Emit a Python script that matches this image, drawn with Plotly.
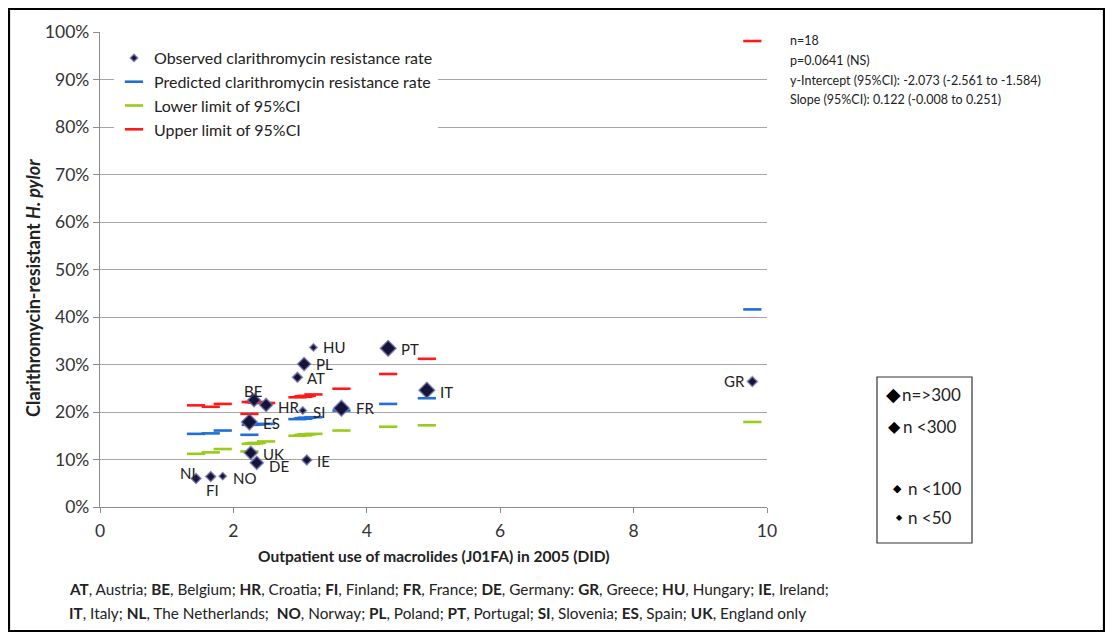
import plotly.graph_objects as go

# ---------------- data ----------------
countries = ["NL", "FI", "NO", "ES", "UK", "BE", "DE", "HR", "AT", "SI", "PL", "IE", "HU", "FR", "PT", "IT", "GR"]
macrolide_use = [1.44, 1.66, 1.84, 2.24, 2.26, 2.31, 2.35, 2.49, 2.96, 3.04, 3.06, 3.10, 3.20, 3.62, 4.32, 4.90, 9.78]
observed = [6.0, 6.4, 6.5, 17.9, 11.4, 22.5, 9.3, 21.5, 27.3, 20.3, 30.1, 9.9, 33.6, 20.8, 33.4, 24.6, 26.4]
predicted = [15.4, 15.5, 16.1, 15.2, 17.3, 17.4, 17.4, 17.5, 18.5, 18.6, 18.7, 18.8, 18.9, 20.3, 21.7, 22.9, 41.6]
lower_ci = [11.2, 11.5, 12.2, 11.7, 13.3, 13.4, 13.5, 13.8, 15.0, 15.1, 15.2, 15.3, 15.4, 16.1, 16.9, 17.2, 17.9]
upper_ci = [21.4, 21.1, 21.7, 19.6, 22.1, 22.1, 22.0, 21.9, 23.1, 23.2, 23.3, 23.4, 23.7, 24.9, 28.0, 31.2, 98.1]
sample_class = ["<100", "<100", "<50", ">=300", "<300", "<300", "<300", "<300", "<100", "<50", "<300", "<100", "<50",
                ">=300", ">=300", ">=300", "<100"]

size_classes = [">=300", "<300", "<100", "<50"]
size_labels = ["n=>300", "n <300", "n <100", "n <50"]
stats_lines = ["n=18", "p=0.0641 (NS)", "y-Intercept (95%CI): -2.073 (-2.561 to -1.584)",
               "Slope (95%CI): 0.122 (-0.008 to 0.251)"]
y_ticks = [0, 10, 20, 30, 40, 50, 60, 70, 80, 90, 100]
x_ticks = [0, 2, 4, 6, 8, 10]
footnote = ["<b>AT</b>, Austria; <b>BE</b>, Belgium; <b>HR</b>, Croatia; <b>FI</b>, Finland; <b>FR</b>, France; "
            "<b>DE</b>, Germany: <b>GR</b>, Greece; <b>HU</b>, Hungary; <b>IE</b>, Ireland;",
            "<b>IT</b>, Italy; <b>NL</b>, The Netherlands;  <b>NO</b>, Norway; <b>PL</b>, Poland; <b>PT</b>, Portugal; "
            "<b>SI</b>, Slovenia; <b>ES</b>, Spain; <b>UK</b>, England only"]

# ---------------- styles ----------------
FONT = "Lato"
TXT = "#222222"
class_size = {">=300": 12, "<300": 10, "<100": 7.5, "<50": 5.5}
key_glyph_size = {">=300": 19, "<300": 16, "<100": 11, "<50": 8}
# label placement: (xanchor, xshift, yshift)
label_pos = {
    "NL": ("center", -7, 6), "FI": ("center", 2, -13), "NO": ("left", 8, -2),
    "ES": ("left", 12, -1), "UK": ("left", 10, -1), "BE": ("center", -1, 9),
    "DE": ("left", 10, -3), "HR": ("left", 10, -2), "AT": ("left", 8, -1),
    "SI": ("left", 8, -1), "PL": ("left", 10, 0), "IE": ("left", 8, -1),
    "HU": ("left", 8, 0), "FR": ("left", 13, 0), "PT": ("left", 11, -1),
    "IT": ("left", 11, -2), "GR": ("right", -5, 1),
}

# page geometry (page pixels); the page body adds an 8px offset
OFF = 8
PAGE_W, PAGE_H = 1113, 639
L, R, T, B = 100, 767, 32, 507
FIG_W, FIG_H = PAGE_W - OFF, PAGE_H - OFF
def px(xp):
    return (xp - L) / (R - L)
def py(yp):
    return (B - yp) / (B - T)

fig = go.Figure()

dash_common = dict(mode="markers", hoverinfo="skip")
fig.add_trace(go.Scatter(x=macrolide_use, y=[v / 100 for v in predicted], name="Predicted clarithromycin resistance rate",
                         marker=dict(symbol="line-ew", size=13, line=dict(color="#1f6fd6", width=2.6)),
                         legendrank=2, **dash_common))
fig.add_trace(go.Scatter(x=macrolide_use, y=[v / 100 for v in lower_ci], name="Lower limit of 95%CI",
                         marker=dict(symbol="line-ew", size=13, line=dict(color="#99cc1a", width=2.6)),
                         legendrank=3, **dash_common))
fig.add_trace(go.Scatter(x=macrolide_use, y=[v / 100 for v in upper_ci], name="Upper limit of 95%CI",
                         marker=dict(symbol="line-ew", size=13, line=dict(color="#ff1a1a", width=2.6)),
                         legendrank=4, **dash_common))

# observed points split by sample-size class; the smallest class carries the legend entry
for cls in reversed(size_classes):
    idx = [i for i, c in enumerate(sample_class) if c == cls]
    fig.add_trace(go.Scatter(
        x=[macrolide_use[i] for i in idx], y=[observed[i] / 100 for i in idx],
        mode="markers", name="Observed clarithromycin resistance rate",
        legendgroup="obs", showlegend=(cls == "<50"), legendrank=1,
        marker=dict(symbol="diamond", size=class_size[cls], color="#141438",
                    line=dict(color="rgba(110,110,170,0.75)", width=1.6)),
        text=[countries[i] for i in idx], hoverinfo="text"))

annotations = []
for c, xv, yv in zip(countries, macrolide_use, observed):
    xa, xs, ys = label_pos[c]
    annotations.append(dict(x=xv, y=yv / 100, xref="x", yref="y", text=c, showarrow=False,
                            xanchor=xa, yanchor="middle", xshift=xs, yshift=ys,
                            font=dict(family=FONT, size=15, color=TXT)))

# statistics text (top right)
for k, line in enumerate(stats_lines):
    annotations.append(dict(x=px(788), y=py(41 + 19.6 * k), xref="paper", yref="paper", text=line,
                            showarrow=False, xanchor="left", yanchor="middle",
                            font=dict(family=FONT, size=12.5, color=TXT)))

# sample-size key
key_y = [394, 426, 488, 517]
key_gx = [893, 894, 897, 899]
key_tx = [900, 901, 906, 906]
for cls, lab, yk, gx, tx in zip(size_classes, size_labels, key_y, key_gx, key_tx):
    annotations.append(dict(x=px(gx), y=py(yk), xref="paper", yref="paper", text="◆", showarrow=False,
                            xanchor="center", yanchor="middle",
                            font=dict(family="DejaVu Sans", size=key_glyph_size[cls], color="#000000")))
    annotations.append(dict(x=px(tx), y=py(yk), xref="paper", yref="paper", text=lab, showarrow=False,
                            xanchor="left", yanchor="middle",
                            font=dict(family=FONT, size=17, color=TXT)))

# axis titles
annotations.append(dict(x=px(434), y=py(556), xref="paper", yref="paper",
                        text="<b>Outpatient use of macrolides (J01FA) in 2005 (DID)</b>", showarrow=False,
                        xanchor="center", yanchor="middle", font=dict(family=FONT, size=15.5, color=TXT)))
annotations.append(dict(x=px(33), y=py(288), xref="paper", yref="paper", textangle=-90,
                        text="<b>Clarithromycin-resistant <i>H. pylor</i></b>", showarrow=False,
                        xanchor="center", yanchor="middle", font=dict(family=FONT, size=18, color=TXT)))

# footnote
for k, line in enumerate(footnote):
    annotations.append(dict(x=px(67), y=py(589 + 24 * k), xref="paper", yref="paper", text=line,
                            showarrow=False, xanchor="left", yanchor="middle",
                            font=dict(family=FONT, size=15.3, color=TXT)))

shapes = [
    dict(type="rect", xref="paper", yref="paper", x0=px(877), x1=px(972), y0=py(543), y1=py(377),
         line=dict(color="#333333", width=1.2), fillcolor="rgba(0,0,0,0)"),
    dict(type="rect", xref="paper", yref="paper", x0=px(9), x1=px(1104), y0=py(631), y1=py(9),
         line=dict(color="#000000", width=2.2), fillcolor="rgba(0,0,0,0)"),
]

fig.update_layout(
    width=FIG_W, height=FIG_H,
    margin=dict(l=L - OFF, r=FIG_W - (R - OFF), t=T - OFF, b=FIG_H - (B - OFF)),
    paper_bgcolor="white", plot_bgcolor="white",
    font=dict(family=FONT, color=TXT),
    showlegend=True,
    legend=dict(x=px(114), y=py(41), xanchor="left", yanchor="top", bgcolor="white",
                font=dict(family=FONT, size=16, color=TXT), itemsizing="trace",
                traceorder="normal", tracegroupgap=0),
    xaxis=dict(range=[0, 10], tickvals=x_ticks, showgrid=False, zeroline=False,
               showline=True, linecolor="#8c8c8c", linewidth=1.3,
               ticks="outside", ticklen=5, tickcolor="#8c8c8c",
               tickfont=dict(family=FONT, size=17.5, color="#333333"), ticklabelstandoff=3),
    yaxis=dict(range=[0, 1], tickvals=[v / 100 for v in y_ticks], tickformat=".0%",
               showgrid=True, gridcolor="#a6a6a6", gridwidth=1.3, zeroline=False,
               showline=True, linecolor="#8c8c8c", linewidth=1.3,
               ticks="outside", ticklen=6, tickcolor="#8c8c8c",
               tickfont=dict(family=FONT, size=17.5, color="#333333")),
    annotations=annotations, shapes=shapes,
)

fig.write_html("out.html")
